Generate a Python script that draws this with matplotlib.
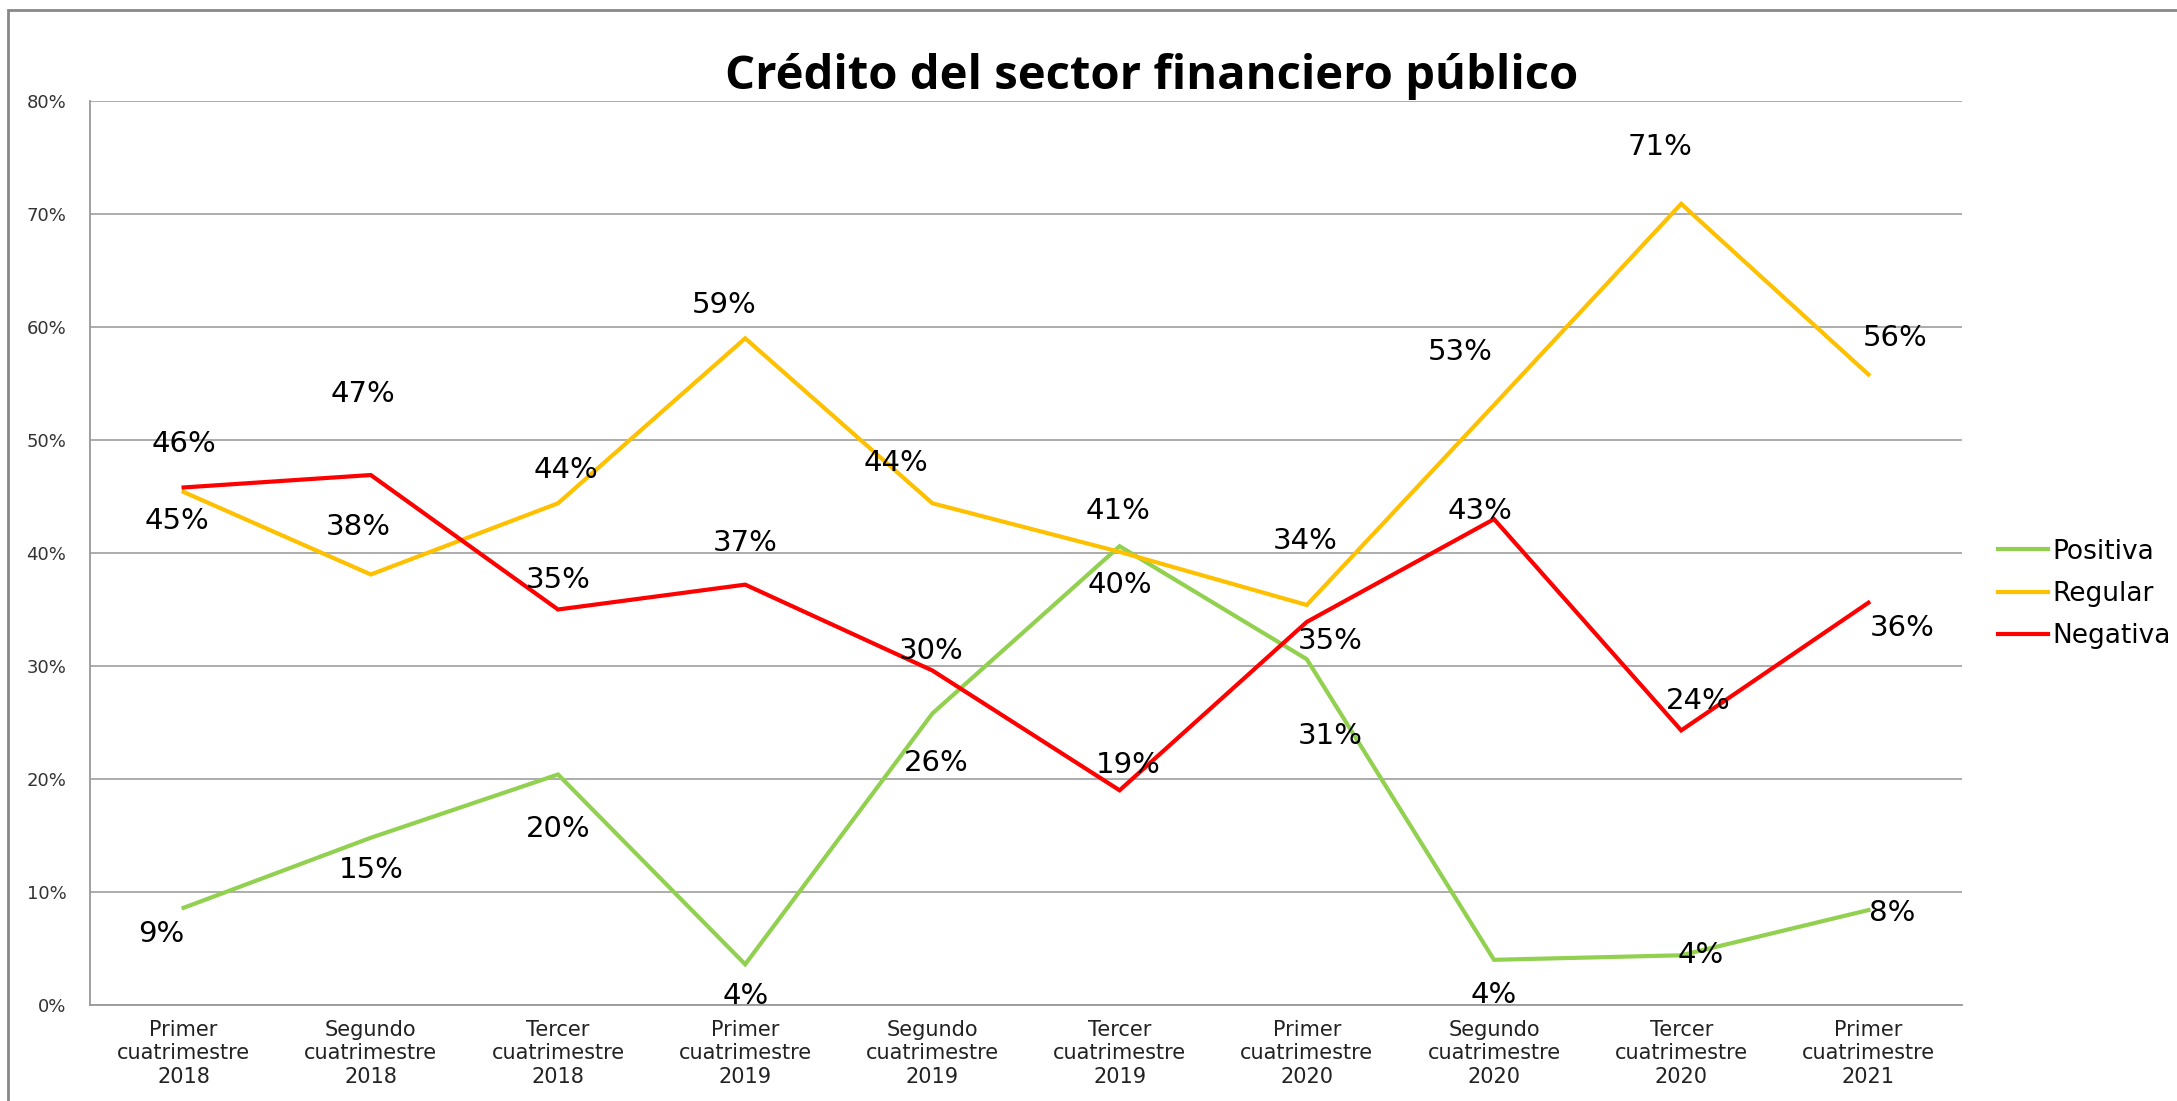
import matplotlib
matplotlib.use("Agg")
import matplotlib.pyplot as plt
from matplotlib.patches import Rectangle

categorias = ["Primer\ncuatrimestre\n2018", "Segundo\ncuatrimestre\n2018", "Tercer\ncuatrimestre\n2018",
              "Primer\ncuatrimestre\n2019", "Segundo\ncuatrimestre\n2019", "Tercer\ncuatrimestre\n2019",
              "Primer\ncuatrimestre\n2020", "Segundo\ncuatrimestre\n2020", "Tercer\ncuatrimestre\n2020",
              "Primer\ncuatrimestre\n2021"]
positiva = [8.6, 14.8, 20.4, 3.6, 25.8, 40.6, 30.6, 4.0, 4.4, 8.4]
regular = [45.4, 38.1, 44.4, 59.0, 44.4, 40.1, 35.4, 53.1, 70.9, 55.8]
negativa = [45.8, 46.9, 35.0, 37.2, 29.6, 19.0, 33.9, 43.0, 24.3, 35.6]

# posiciones de las etiquetas (puntos, relativo al punto)
off_pos = [(-16, -19), (0, -23), (0, -39), (0, -23), (3, -36), (-1, 25), (17, -55), (0, -25), (14, 0), (17, -2)]
off_reg = [(-5, -21), (-9, 34), (6, 24), (-15, 24), (-26, 29), (0, -24), (17, -26), (-24, 38), (-15, 41), (19, 26)]
off_neg = [(0, 31), (-6, 58), (0, 21), (0, 30), (-1, 14), (6, 18), (-1, 58), (-10, 6), (12, 21), (24, -18)]

series = [("Positiva", positiva, "#92D050", off_pos),
          ("Regular", regular, "#FFC000", off_reg),
          ("Negativa", negativa, "#FF0000", off_neg)]

fig = plt.figure(figsize=(21.77, 11.01), dpi=100)
ax = fig.add_axes([90/2177, 1-1005/1101, (1962-90)/2177, (1005-101)/1101])

x = list(range(len(categorias)))
for nombre, vals, color, offs in series:
    ax.plot(x, vals, color=color, lw=3, label=nombre, solid_joinstyle="miter")
    for xi, v, (dx, dy) in zip(x, vals, offs):
        ax.annotate(f"{round(v)}%", (xi, v), xytext=(dx, dy), textcoords="offset points",
                    ha="center", va="center", fontsize=21, family="DejaVu Sans", color="black")

ax.set_xlim(-0.5, len(categorias) - 0.5)
ax.set_ylim(0, 80)
ax.set_yticks(range(0, 81, 10))
ax.set_yticklabels([f"{t}%" for t in range(0, 81, 10)], fontsize=13, color="#333333",
                   family="DejaVu Sans")
ax.set_xticks(x)
ax.set_xticklabels(categorias, fontsize=15, linespacing=1.2, color="#222222",
                   family="DejaVu Sans")
ax.tick_params(axis="y", length=0, pad=17)
ax.tick_params(axis="x", length=0, pad=11)
ax.grid(axis="y", color="#A6A6A6", lw=1.3)
ax.set_axisbelow(True)
for s in ["top", "right"]:
    ax.spines[s].set_visible(False)
ax.spines["left"].set_color("#999999")
ax.spines["bottom"].set_color("#999999")
ax.spines["left"].set_linewidth(1.3)
ax.spines["bottom"].set_linewidth(1.3)

fig.text(0.529, 1-76/1101, "Crédito del sector financiero público", ha="center", va="center",
         fontsize=34, fontweight="bold", family=["Open Sans", "DejaVu Sans"])

fig.legend(loc="center left", bbox_to_anchor=(1998/2177, 1-594/1101), frameon=False,
           handlelength=1.9, handletextpad=0.15, labelspacing=0.62, borderpad=0, borderaxespad=0,
           prop={"family": "DejaVu Sans", "size": 19})

fig.add_artist(Rectangle((8/2177, -0.1), 1.2, 1.1 - 10/1101, transform=fig.transFigure,
                         fill=False, edgecolor="#888888", lw=2))

fig.savefig("out.png", dpi=100)
